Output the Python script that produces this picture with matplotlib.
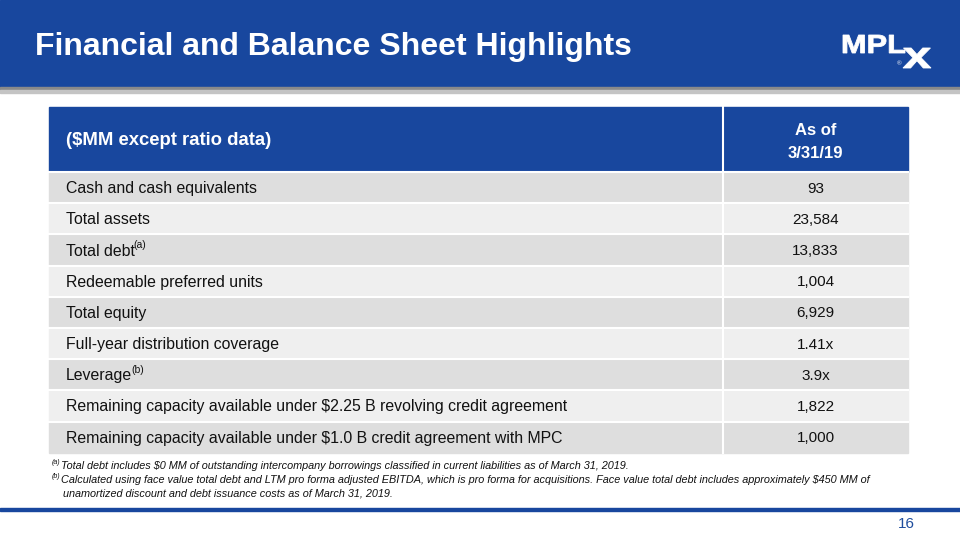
import matplotlib.pyplot as plt
from matplotlib.font_manager import FontProperties
from matplotlib.patches import PathPatch, Rectangle
from matplotlib.textpath import TextPath
from matplotlib.transforms import Affine2D

plt.rcParams["font.family"] = ["Liberation Sans", "DejaVu Sans"]

title = "Financial and Balance Sheet Highlights"
header_label = "($MM except ratio data)"
header_value = ["As of", "3/31/19"]
row_labels = [
    "Cash and cash equivalents",
    "Total assets",
    "Total debt",
    "Redeemable preferred units",
    "Total equity",
    "Full-year distribution coverage",
    "Leverage",
    "Remaining capacity available under $2.25 B revolving credit agreement",
    "Remaining capacity available under $1.0 B credit agreement with MPC",
]
row_notes = ["", "", "(a)", "", "", "", "(b)", "", ""]
row_values = ["93", "23,584", "13,833", "1,004", "6,929", "1.41x", "3.9x", "1,822", "1,000"]
footnote_marks = ["(a)", "(b)", ""]
footnotes = [
    "Total debt includes $0 MM of outstanding intercompany borrowings classified in current liabilities as of March 31, 2019.",
    "Calculated using face value total debt and LTM pro forma adjusted EBITDA, which is pro forma for acquisitions. Face value total debt includes approximately $450 MM of",
    "unamortized discount and debt issuance costs as of March 31, 2019.",
]
page_number = "16"

BLUE = "#18479e"
ROW_COLORS = ["#dedede", "#efefef"]
TEXT = "#111111"

fig = plt.figure(figsize=(9.6, 5.4), dpi=100)
ax = fig.add_axes([0, 0, 1, 1])
ax.set_xlim(0, 960)
ax.set_ylim(540, 0)
ax.axis("off")
renderer = fig.canvas.get_renderer()


def text_right(t):
    # right edge of a text in data (pixel) coords
    bb = t.get_window_extent(renderer=renderer)
    return ax.transData.inverted().transform((bb.x1, bb.y0))[0]


def logo_part(s, x, baseline, width, height):
    # glyphs stretched into a box, baseline at `baseline`
    tp = TextPath((0, 0), s, size=1, prop=FontProperties(family="Liberation Sans", weight="bold"))
    ext = tp.get_extents()
    tr = Affine2D().translate(-ext.x0, 0).scale(width / ext.width, -height / ext.y1)
    tr = tr.translate(x, baseline)
    ax.add_patch(PathPatch(tp, transform=tr + ax.transData, color="white", lw=0.6, zorder=3))


# banner
ax.add_patch(Rectangle((0, 0), 960, 87, color=BLUE, zorder=1))
ax.add_patch(Rectangle((0, 87), 960, 3, color="#8a8a8a", zorder=1))
ax.add_patch(Rectangle((0, 90), 960, 3, color="#c4c4c4", zorder=1))
ax.text(35, 47, title, color="white", fontsize=23, fontweight="bold",
        va="center", ha="left")
# logo
logo_part("MPL", 843, 53, 62, 18)
logo_part("x", 903, 68, 28, 20)
ax.text(899, 64, "®", color="white", fontsize=4.5, va="center", ha="center", zorder=5)

# table
x0, xdiv, x1 = 49, 723, 908
hy0, hy1 = 107, 172
row_h = 31.2
ax.add_patch(Rectangle((x0, hy0), x1 - x0, hy1 - hy0, color=BLUE, zorder=2))
ax.text(66, (hy0 + hy1) / 2 + 1, header_label, color="white", fontsize=13.3,
        fontweight="bold", va="center", ha="left", zorder=3)
for k, line in enumerate(header_value):
    ax.text((xdiv + x1) / 2, 130.5 + k * 23.5, line, color="white",
            fontsize=12, fontweight="bold", va="center", ha="center", zorder=3)

for i, (lab, note, val) in enumerate(zip(row_labels, row_notes, row_values)):
    y = hy1 + i * row_h
    ax.add_patch(Rectangle((x0, y), x1 - x0, row_h, color=ROW_COLORS[i % 2], zorder=2))
    ax.plot([x0, x1], [y, y], color="white", lw=1.5, zorder=3)
    yc = y + row_h / 2 + 1
    t = ax.text(66, yc, lab, color=TEXT, fontsize=11.4, va="center", ha="left", zorder=4)
    if note:
        ax.text(text_right(t) - 1, yc - 6, note, color=TEXT, fontsize=7.5,
                va="center", ha="left", zorder=4)
    ax.text((xdiv + x1) / 2, yc, val, color=TEXT, fontsize=11, va="center",
            ha="center", zorder=4)
ax.plot([xdiv, xdiv], [hy0, hy1 + len(row_labels) * row_h], color="white",
        lw=1.5, zorder=3)

# footnotes
for j, (mark, note) in enumerate(zip(footnote_marks, footnotes)):
    yf = 466 + j * 14
    xs = 63
    if mark:
        m = ax.text(52, yf - 3, mark, color=TEXT, fontsize=5, style="italic",
                    va="center", ha="left")
        xs = text_right(m)
    ax.text(xs, yf, note, color=TEXT, fontsize=7.85, style="italic",
            va="center", ha="left")

# bottom rule and page number
ax.add_patch(Rectangle((0, 508), 960, 3, color=BLUE, zorder=1))
ax.text(906, 524, page_number, color="#1f4e9e", fontsize=11, va="center", ha="center")

fig.savefig("out.png", dpi=100)
